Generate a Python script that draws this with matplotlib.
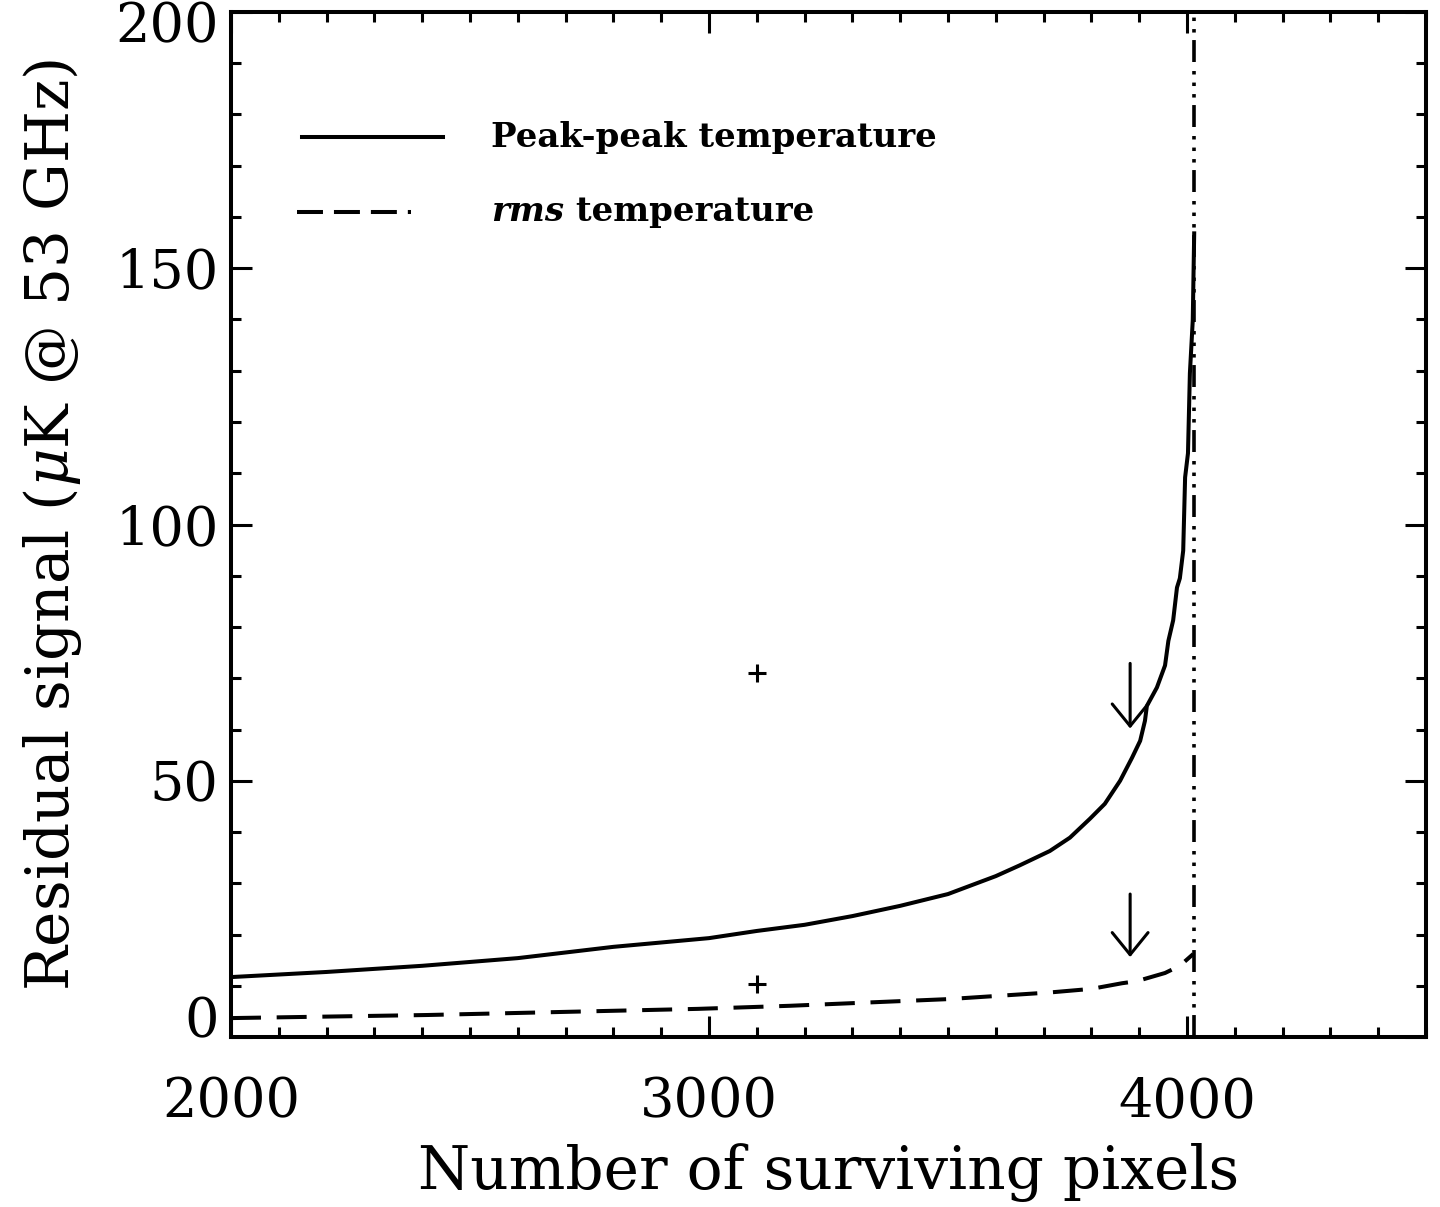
import matplotlib
matplotlib.use('Agg')
import matplotlib.pyplot as plt
from matplotlib.ticker import MultipleLocator
from matplotlib.transforms import ScaledTranslation

# peak-peak residual vs number of surviving pixels
pixels = [2000, 2200, 2400, 2600, 2800, 3000, 3100, 3200, 3300, 3400, 3500,
          3600, 3650, 3713, 3755, 3797, 3828, 3860, 3885, 3902, 3912, 3916,
          3937, 3954, 3961, 3971, 3979, 3985, 3992, 3996, 4002, 4006, 4012, 4015]
peak_peak = [11.7, 12.7, 13.9, 15.4, 17.6, 19.3, 20.7, 21.9, 23.6, 25.6, 27.9,
             31.4, 33.5, 36.3, 38.9, 42.6, 45.5, 50.0, 54.5, 57.8, 61.7, 64.6,
             68.2, 72.5, 77.3, 81.3, 87.7, 89.5, 94.9, 109.2, 113.9, 129.5, 139.8, 156.8]

# rms residual
rms_pixels = [2000, 2410, 2977, 3169, 3500, 3713, 3800, 3864, 3895, 3954, 3985, 4013]
rms = [3.7, 4.3, 5.5, 6.1, 7.4, 8.7, 9.4, 10.5, 10.9, 12.5, 13.9, 16.2]

cut_pixels = 4015

plus_x = [3100, 3100]
plus_y = [71.1, 10.4]

arrow_x = [3881, 3881]
arrow_top = [72.9, 27.9]
arrow_tip = [60.2, 15.6]

plt.rcParams['font.family'] = 'DejaVu Serif'
plt.rcParams['mathtext.fontset'] = 'dejavuserif'
plt.rcParams['lines.scale_dashes'] = False

fig = plt.figure(figsize=(14.4, 12.07), dpi=100)
ax = fig.add_axes([0.1604, 0.1408, 0.8299, 0.8493])

ax.plot(pixels, peak_peak, color='black', lw=2.9, solid_joinstyle='round')
ax.plot(rms_pixels, rms, color='black', lw=2.9, ls=(0, (21.6, 11.3)),
        dash_capstyle='butt')
ax.axvline(cut_pixels, color='black', lw=2.6,
           ls=(0, (15.8, 5.4, 2.5, 5.8, 2.5, 5.8, 2.5, 6.5)), dash_capstyle='butt')

ax.plot(plus_x, plus_y, '+', color='black', ms=13, mew=2.2)

for xa, y0, y1 in zip(arrow_x, arrow_top, arrow_tip):
    ax.annotate('', xy=(xa, y1), xytext=(xa, y0),
                arrowprops=dict(arrowstyle='->,head_length=0.53,head_width=0.43',
                                lw=2.2, color='black', shrinkA=0, shrinkB=0,
                                mutation_scale=30))

# legend drawn by hand
ax.plot([0.0594, 0.1774], [0.878, 0.878], transform=ax.transAxes, color='black', lw=2.9)
ax.text(0.2176, 0.878, 'Peak-peak temperature', transform=ax.transAxes,
        fontsize=24.5, fontweight='bold', va='center')
ax.plot([0.0552, 0.1506], [0.805, 0.805], transform=ax.transAxes, color='black',
        lw=2.9, ls=(0, (18.7, 7.9)), dash_capstyle='butt')
t = ax.text(0.2176, 0.805, 'rms', transform=ax.transAxes, fontsize=24.5,
            fontweight='bold', style='italic', va='center')
ax.annotate(' temperature', xy=(1, 0), xycoords=t, va='bottom', ha='left',
            fontsize=24.5, fontweight='bold')

ax.set_xlim(2000, 4500)
ax.set_ylim(0, 200)
ax.set_xticks([2000, 3000, 4000])
ax.xaxis.set_minor_locator(MultipleLocator(100))
ax.set_yticks([0, 50, 100, 150, 200])
ax.yaxis.set_minor_locator(MultipleLocator(10))
ax.tick_params(which='both', direction='in', top=True, right=True, width=2.2)
ax.tick_params(which='major', length=15, labelsize=39)
ax.tick_params(which='minor', length=7.5)
ax.tick_params(axis='x', pad=28)
ax.tick_params(axis='y', pad=9)
for s in ax.spines.values():
    s.set_linewidth(2.9)

ax.set_xlabel('Number of surviving pixels', fontsize=43, labelpad=11)
ax.set_ylabel(r'Residual signal ($\mu$K @ 53 GHz)', fontsize=43, labelpad=22)

# IDL style: end labels kept inside the axis
yt = ax.yaxis.get_major_ticks()
yt[0].label1.set_va('baseline')
yt[-1].label1.set_transform(yt[-1].label1.get_transform() +
                            ScaledTranslation(0, -0.1, fig.dpi_scale_trans))

fig.savefig('out.png', dpi=100)
